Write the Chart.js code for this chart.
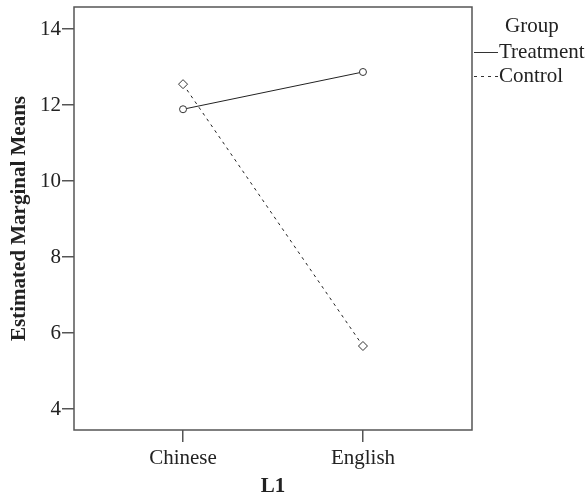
<!DOCTYPE html>
<html>
<head>
<meta charset="utf-8">
<script src="https://cdn.jsdelivr.net/npm/chart.js@4.4.1/dist/chart.umd.min.js"></script>
<style>
html,body{margin:0;padding:0;background:#fff;}
#wrap{width:587px;height:497px;position:relative;}
</style>
</head>
<body>
<div id="wrap"><canvas id="c" width="587" height="497"></canvas></div>
<script>
const categories = ["Chinese", "English"];
const groups = ["Treatment", "Control"];
const treatmentValues = [11.89, 12.87];
const controlValues = [12.55, 5.66];
const yTicks = [4, 6, 8, 10, 12, 14];
const legendTitle = "Group";
const xTitle = "L1";
const yTitle = "Estimated Marginal Means";

const FONT = "'Liberation Serif', 'Times New Roman', serif";
const INK = '#222';
const FRAME = '#555';

function toPoints(vals){ return vals.map((v,i)=>({x:i,y:v})); }

const framePlugin = {
  id:'frame',
  afterDraw(chart){
    const {ctx, chartArea:a} = chart;
    ctx.save();
    ctx.strokeStyle = FRAME;
    ctx.lineWidth = 1.5;
    ctx.strokeRect(a.left, a.top, a.right-a.left, a.bottom-a.top);
    // legend
    ctx.fillStyle = INK;
    ctx.font = "21px " + FONT;
    ctx.textBaseline = 'middle';
    ctx.textAlign = 'left';
    ctx.fillText(legendTitle, 505, 26);
    const rows = [52, 76];
    chart.data.datasets.forEach((ds,i)=>{
      const y = rows[i];
      ctx.beginPath();
      ctx.strokeStyle = '#333';
      ctx.lineWidth = 1;
      ctx.setLineDash(ds.borderDash || []);
      ctx.moveTo(474, y+0.5);
      ctx.lineTo(498, y+0.5);
      ctx.stroke();
      ctx.setLineDash([]);
      ctx.fillText(ds.label, 499, y);
    });
    ctx.restore();
  }
};

new Chart(document.getElementById('c'), {
  type:'line',
  data:{
    datasets:[
      {label:groups[0], data:toPoints(treatmentValues), borderColor:'#222', borderWidth:1,
       pointStyle:'circle', pointRadius:3.5, pointBackgroundColor:'#fff', pointBorderColor:'#333', pointBorderWidth:1},
      {label:groups[1], data:toPoints(controlValues), borderColor:'#222', borderWidth:1, borderDash:[3,4],
       pointStyle:'rectRot', pointRadius:4.5, pointBackgroundColor:'#fff', pointBorderColor:'#333', pointBorderWidth:1}
    ]
  },
  options:{
    responsive:false,
    animation:false,
    layout:{padding:{top:7,right:115,left:0,bottom:0}},
    plugins:{legend:{display:false}, tooltip:{enabled:false}},
    scales:{
      x:{
        type:'linear', min:-0.606, max:1.606,
        afterBuildTicks(s){ s.ticks = categories.map((c,i)=>({value:i})); },
        afterFit(s){ s.height = 67; s.paddingLeft = 0; s.paddingRight = 0; },
        ticks:{callback:(v)=>categories[v], color:INK, font:{family:FONT,size:21}, padding:4, maxRotation:0},
        grid:{display:true, drawOnChartArea:false, drawTicks:true, tickLength:12, color:FRAME, lineWidth:1.5},
        border:{display:false},
        title:{display:true, text:xTitle, color:INK, font:{family:FONT,size:21,weight:'bold',lineHeight:1}, padding:{top:4,bottom:0}}
      },
      y:{
        min:3.45, max:14.58,
        afterBuildTicks(s){ s.ticks = yTicks.map(v=>({value:v})); },
        afterFit(s){ s.width = 74; s.paddingTop = 0; s.paddingBottom = 0; },
        ticks:{color:INK, font:{family:FONT,size:21}, padding:1},
        grid:{display:true, drawOnChartArea:false, drawTicks:true, tickLength:12, color:FRAME, lineWidth:1.5},
        border:{display:false},
        title:{display:true, text:yTitle, color:INK, font:{family:FONT,size:21,weight:'bold',lineHeight:1.2}, padding:{top:7,bottom:0}}
      }
    }
  },
  plugins:[framePlugin]
});
</script>
</body>
</html>
